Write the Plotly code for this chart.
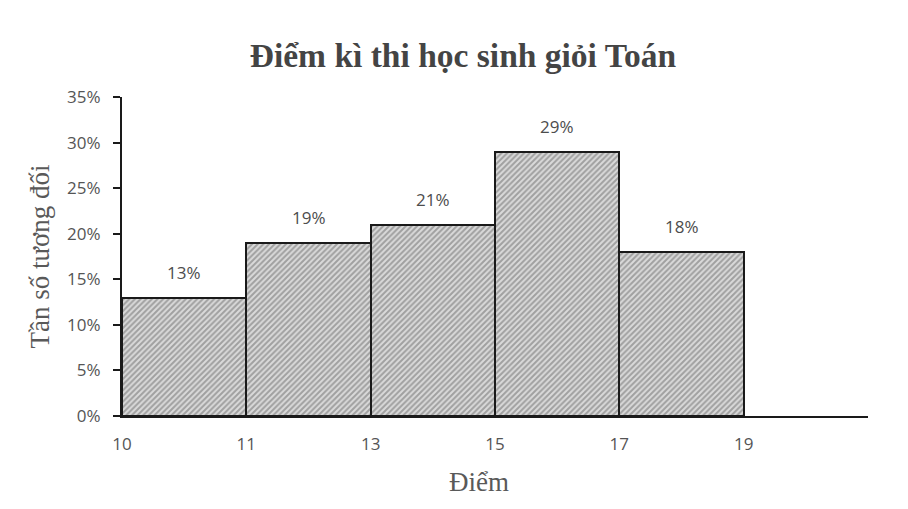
import plotly.graph_objects as go

# Data
bin_edges = [10, 11, 13, 15, 17, 19]
frequencies = [13, 19, 21, 29, 18]  # percent
y_ticks = [0, 5, 10, 15, 20, 25, 30, 35]

n = len(frequencies)
x_centers = [i + 0.5 for i in range(n)]
labels = [f"{v}%" for v in frequencies]

SANS = "Open Sans, Liberation Sans, sans-serif"
SERIF = "Liberation Serif, DejaVu Serif, serif"

fig = go.Figure()
fig.add_trace(go.Bar(
    x=x_centers,
    y=[v / 100 for v in frequencies],
    width=1,
    marker=dict(
        color="#d0d0d0",
        line=dict(color="#1a1a1a", width=2),
        pattern=dict(shape="/", fgcolor="#666666", bgcolor="#dadada", size=4, solidity=0.5),
    ),
    showlegend=False,
))

annotations = [
    dict(x=xc, y=v / 100, text=lab, showarrow=False, yshift=25,
         xref="x", yref="y", font=dict(family=SANS, size=17, color="#4d4d4d"))
    for xc, v, lab in zip(x_centers, frequencies, labels)
]
annotations.append(dict(
    text="Điểm", xref="paper", yref="paper", x=0.4786, y=0, yshift=-66,
    xanchor="center", yanchor="middle", showarrow=False,
    font=dict(family=SERIF, size=27, color="#595959"),
))

fig.update_layout(
    width=908, height=509,
    paper_bgcolor="white", plot_bgcolor="white",
    margin=dict(l=114, r=48, t=89, b=101),
    title=dict(
        text="<b>Điểm kì thi học sinh giỏi Toán</b>",
        x=0.501, xanchor="center", y=0.908, yanchor="middle",
        font=dict(family=SERIF, size=33.5, color="#444444"),
    ),
    bargap=0,
    annotations=annotations,
)

fig.update_xaxes(
    range=[0, n + 1],
    tickmode="array",
    tickvals=list(range(len(bin_edges))),
    ticktext=[str(e) for e in bin_edges],
    showgrid=False, zeroline=False,
    showline=True, linecolor="#1a1a1a", linewidth=2,
    ticks="", ticklabelstandoff=12,
    tickfont=dict(family=SANS, size=17, color="#555555"),
)

fig.update_yaxes(
    range=[0, 0.35],
    tickmode="array",
    tickvals=[t / 100 for t in y_ticks],
    ticktext=[f"{t}%" for t in y_ticks],
    showgrid=False, zeroline=False,
    showline=True, linecolor="#1a1a1a", linewidth=2,
    ticks="outside", ticklen=7, tickcolor="#1a1a1a", tickwidth=2,
    ticklabelstandoff=9,
    tickfont=dict(family=SANS, size=17, color="#555555"),
    title=dict(text="Tần số tương đối", standoff=10,
               font=dict(family=SERIF, size=27, color="#595959")),
)

fig.write_html("out.html")
